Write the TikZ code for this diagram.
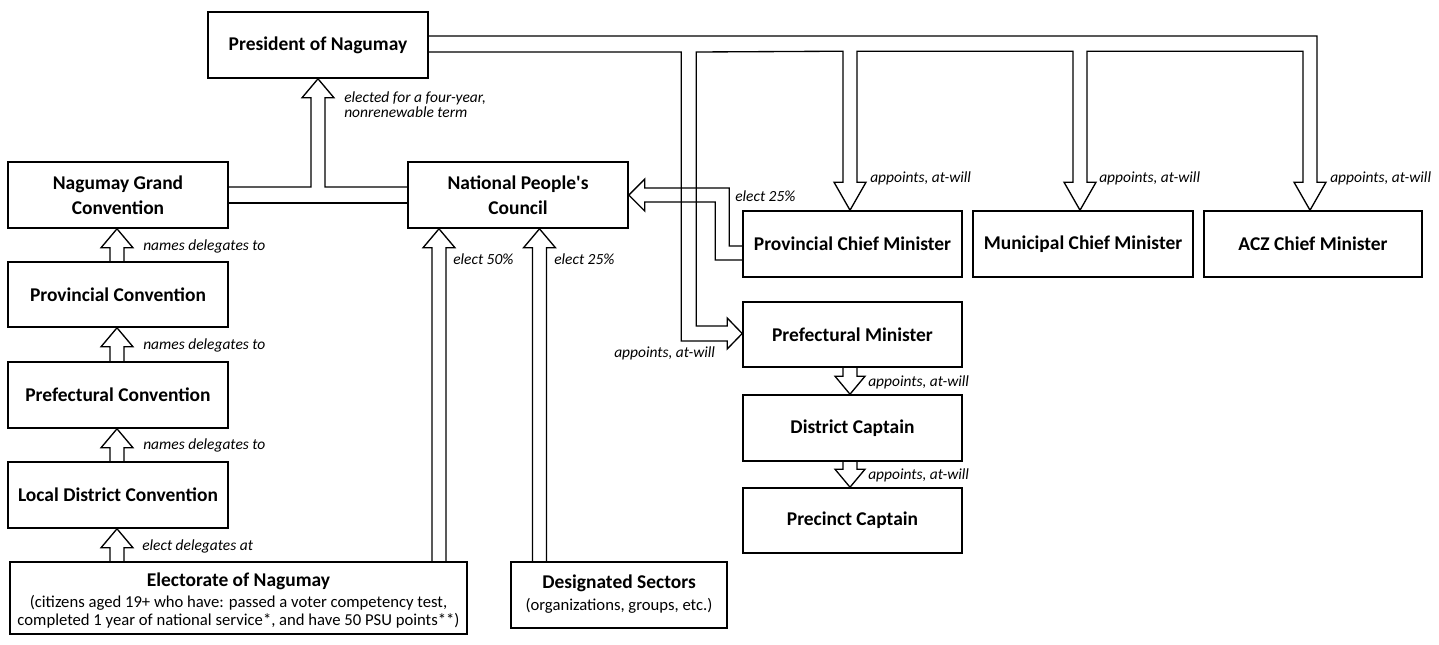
\documentclass[tikz,border=0pt]{standalone}
\usepackage{fontspec}
\setmainfont{Carlito}[Ligatures=TeXOff]
\usetikzlibrary{calc}
\newcommand\bx[6]{%
  \node[box, minimum width={(#4-#2)*0.75pt}, minimum height={(#5-#3)*0.75pt}] (#1) at ({(#2+#4)/2},{(#3+#5)/2}) {#6};
}
\newcommand\uparr[3]{%
  \coordinate (ux) at (#1,0);
  \draw[harrow] ($(ux |- #2.north)+(-7,0)$) -- ($(ux |- #3.south)+(-7,19)$) -- ++(-9,0) -- (ux |- #3.south) -- ($(ux |- #3.south)+(16,19)$) -- ++(-9,0) -- ($(ux |- #2.north)+(7,0)$);
}
\newcommand\dnarr[3]{%
  \coordinate (ux) at (#1,0);
  \draw[harrow] ($(ux |- #2.south)+(-7,0)$) -- ($(ux |- #3.north)+(-7,-18)$) -- ++(-8,0) -- (ux |- #3.north) -- ($(ux |- #3.north)+(15,-18)$) -- ++(-8,0) -- ($(ux |- #2.south)+(7,0)$);
}
\begin{document}
\begin{tikzpicture}[x=0.75pt,y=-0.75pt,
  box/.style={draw, line width=1.2pt, inner sep=0pt, align=center, font=\fontsize{14.6}{18.5}\selectfont\bfseries},
  lbl/.style={anchor=west, inner sep=0pt, align=left, font=\fontsize{11.6}{11.3}\selectfont\itshape},
  harrow/.style={line width=1pt, line join=miter},
  sub/.style={font=\fontsize{12.5}{13.5}\selectfont}
]
\useasboundingbox (0,0) rectangle (1439,644);

% boxes
\bx{pres}{208}{12}{428}{78}{President of Nagumay}
\bx{ngc}{8}{162}{228}{228}{Nagumay Grand\\Convention}
\bx{npc}{408}{162}{628}{228}{National People's\\Council}
\bx{provc}{8}{262}{228}{327}{Provincial Convention}
\bx{prefc}{8}{362}{228}{428}{Prefectural Convention}
\bx{ldc}{8}{462}{228}{528}{Local District Convention}
\bx{elec}{10}{562}{467}{634}{}
\node[font=\fontsize{14.6}{18}\selectfont\bfseries, inner sep=0pt] (elect) at (238.5,581) {Electorate of Nagumay};
\node[sub, align=center, inner sep=0pt] (elecs) at (238.5,612) {(citizens aged 19+ who have: passed a voter competency test,\\completed 1 year of national service*, and have 50 PSU points**)};
\bx{des}{511}{562}{727}{628}{}
\node[font=\fontsize{14.6}{18}\selectfont\bfseries, inner sep=0pt] (dest) at (619,583) {Designated Sectors};
\node[sub, inner sep=0pt] (dess) at (619,606) {(organizations, groups, etc.)};
\bx{pcm}{743}{211}{962}{277}{Provincial Chief Minister}
\bx{mcm}{973}{211}{1193}{277}{Municipal Chief Minister}
\bx{acz}{1204}{211}{1422}{277}{ACZ Chief Minister}
\bx{pm}{743}{302}{962}{367}{Prefectural Minister}
\bx{dc}{743}{395}{962}{461}{District Captain}
\bx{pc}{743}{488}{962}{553}{Precinct Captain}

% left column arrows
\uparr{117}{provc}{ngc}
\uparr{117}{prefc}{provc}
\uparr{117}{ldc}{prefc}
\uparr{117}{elec}{ldc}
\uparr{439}{elec}{npc}
\uparr{539.5}{des}{npc}
\dnarr{850}{pm}{dc}
\dnarr{850}{dc}{pc}

% Grand Convention + Council -> President
\draw[harrow] ($(ngc.east)+(0,-8)$) -| ($(pres.south)+(-7,19)$) -- ++(-9,0) -- (pres.south) -- ($(pres.south)+(16,19)$) -- ++(-9,0) |- ($(npc.west)+(0,-8)$);
\draw[harrow] ($(ngc.east)+(0,8)$) -- ($(npc.west)+(0,8)$);

% Provincial Chief Minister -> Council
\draw[harrow] ($(pcm.west)+(0,2)$) -- ++(-13,0) |- ($(npc.east)+(16,-7)$) -- ++(0,-9) -- (npc.east) -- ($(npc.east)+(16,16)$) -- ++(0,-9) -| ($(pcm.west)+(-27,16)$) -- ($(pcm.west)+(0,16)$);

% President appoints
\coordinate (ta) at ($(acz.north)+(-3,0)$);
\coordinate (tm) at ($(mcm.north)+(-3,0)$);
\coordinate (tp) at ($(pcm.north)+(-2.5,0)$);
\coordinate (tf) at ($(pm.west)+(0,-1)$);
\draw[harrow] ($(pres.east)+(0,-9)$) -| ($(ta)+(7,-28)$) -- ++(9,0) -- (ta) -- ($(ta)+(-16,-28)$) -- ++(9,0)
  -- ($(ta)+(-7,-159)$) -- ($(tm)+(7,-159)$)
  -- ($(tm)+(7,-28)$) -- ++(9,0) -- (tm) -- ($(tm)+(-16,-28)$) -- ++(9,0)
  -- ($(tm)+(-7,-159)$) -- ($(tp)+(7,-159)$)
  -- ($(tp)+(7,-28)$) -- ++(9,0) -- (tp) -- ($(tp)+(-16,-28)$) -- ++(9,0)
  -- ($(tp)+(-7,-159)$) -- ($(tf)+(-46,-281.5)$)
  -- ($(tf)+(-46,-7.5)$) -- ($(tf)+(-15,-7.5)$) -- ++(0,-8) -- (tf) -- ($(tf)+(-15,15.5)$) -- ++(0,-8)
  -- ($(tf)+(-61,7.5)$) -- ($(tf)+(-61,-281.5)$) -- ($(pres.east)+(0,7)$);

% labels
\node[lbl] (l1) at (344,104.5) {elected for a four-year,\\nonrenewable term};
\node[lbl] (l2) at (143,246) {names delegates to};
\node[lbl] (l3) at (143,345) {names delegates to};
\node[lbl] (l4) at (143,445) {names delegates to};
\node[lbl] (l5) at (142,546) {elect delegates at};
\node[lbl] (l6) at (453,259) {elect 50\%};
\node[lbl] (l7) at (554,259) {elect 25\%};
\node[lbl] (l8) at (735,196) {elect 25\%};
\node[lbl] (l9) at (870,178) {appoints, at-will};
\node[lbl] (l10) at (1099,178) {appoints, at-will};
\node[lbl] (l11) at (1330,178) {appoints, at-will};
\node[lbl] (l12) at (614,353) {appoints, at-will};
\node[lbl] (l13) at (868,382) {appoints, at-will};
\node[lbl] (l14) at (868,475) {appoints, at-will};
\end{tikzpicture}
\end{document}
